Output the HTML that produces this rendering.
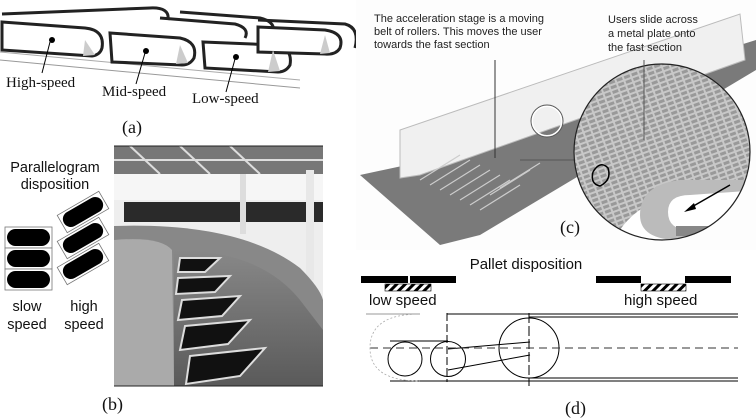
<!DOCTYPE html>
<html><head><meta charset="utf-8"><style>
html,body{margin:0;padding:0;background:#fff;}
svg{display:block;}
.s{font-family:"Liberation Serif",serif;}
.a{font-family:"Liberation Sans","DejaVu Sans",sans-serif;}
</style></head><body>
<svg width="756" height="420" viewBox="0 0 756 420" xmlns="http://www.w3.org/2000/svg">
<defs>
<pattern id="h" width="6" height="6" patternUnits="userSpaceOnUse" patternTransform="rotate(45)">
<rect width="6" height="6" fill="#fff"/><rect width="3" height="6" fill="#000"/></pattern>
<pattern id="grid" width="8" height="5" patternUnits="userSpaceOnUse" patternTransform="rotate(-20)">
<rect width="8" height="5" fill="#c8c8c8"/><rect width="6" height="3" fill="#999"/></pattern>
<linearGradient id="ph" x1="0" y1="0" x2="0" y2="1">
<stop offset="0" stop-color="#888"/><stop offset="1" stop-color="#5a5a5a"/></linearGradient>
<clipPath id="mag"><circle cx="662" cy="152" r="88"/></clipPath>
</defs>

<!-- (a) escalators -->
<g stroke="#222" fill="none">
<path d="M0 60 L300 88" stroke="#999" stroke-width="1"/>
<path d="M0 52 L300 80" stroke="#aaa" stroke-width="1"/>
<path d="M2 14 L150 8 Q170 7 168 20" stroke-width="3"/>
<path d="M180 12 L260 18 Q278 22 272 36" stroke-width="3"/>
<path d="M258 20 L345 24 Q360 28 355 48" stroke-width="3"/>
<path d="M160 18 L235 24 Q250 28 245 38" stroke-width="3"/>
</g>
<g stroke="#222" stroke-width="3">
<path d="M2 22 L85 28 Q105 30 102 48 Q100 55 92 56 L2 50 Z" fill="#fff"/>
<path d="M110 33 L180 38 Q198 42 194 58 Q190 65 182 65 L112 62 Z" fill="#fff"/>
<path d="M203 42 L275 45 Q293 48 290 65 Q286 72 278 72 L205 68 Z" fill="#fff"/>
<path d="M258 27 L325 30 Q345 33 340 48 Q336 55 325 54 L258 52 Z" fill="#fff"/>
</g>
<g fill="#ccc"><path d="M85 40 L95 55 L83 56 Z"/><path d="M180 45 L188 63 L176 64 Z"/><path d="M273 50 L280 71 L268 72 Z"/><path d="M325 35 L330 53 L320 54 Z"/></g>
<g fill="#000"><circle cx="52" cy="40" r="3"/><circle cx="146" cy="51" r="3"/><circle cx="236" cy="57" r="3"/></g>
<g stroke="#000" stroke-width="1"><line x1="50" y1="42" x2="42" y2="73"/><line x1="145" y1="53" x2="136" y2="84"/><line x1="235" y1="59" x2="226" y2="92"/></g>
<g class="s" font-size="15" fill="#111">
<text x="6" y="87">High-speed</text><text x="102" y="96">Mid-speed</text><text x="192" y="103">Low-speed</text>
<text x="122" y="133" font-size="18">(a)</text></g>

<!-- (b) left diagram -->
<g class="a" font-size="14.5" fill="#111" text-anchor="middle">
<text x="55" y="172">Parallelogram</text><text x="55" y="189">disposition</text>
<text x="27" y="311">slow</text><text x="27" y="329">speed</text>
<text x="84" y="311">high</text><text x="84" y="329">speed</text></g>
<g stroke="#777" fill="#fff" stroke-width="0.8">
<rect x="5" y="227" width="47" height="21"/><rect x="5" y="248" width="47" height="21"/><rect x="5" y="269" width="47" height="21"/></g>
<g fill="#000"><rect x="7" y="229" width="43" height="17" rx="8.5"/><rect x="7" y="250" width="43" height="17" rx="8.5"/><rect x="7" y="271" width="43" height="17" rx="8.5"/></g>
<g transform="translate(83,212) rotate(-30)"><rect x="-24" y="-10" width="48" height="20" fill="#fff" stroke="#777" stroke-width="0.8"/><rect x="-22" y="-8" width="44" height="16" rx="8" fill="#000"/></g>
<g transform="translate(83,238) rotate(-30)"><rect x="-24" y="-10" width="48" height="20" fill="#fff" stroke="#777" stroke-width="0.8"/><rect x="-22" y="-8" width="44" height="16" rx="8" fill="#000"/></g>
<g transform="translate(83,264) rotate(-30)"><rect x="-24" y="-10" width="48" height="20" fill="#fff" stroke="#777" stroke-width="0.8"/><rect x="-22" y="-8" width="44" height="16" rx="8" fill="#000"/></g>

<!-- (b) photo -->
<g>
<rect x="114" y="146" width="209" height="240" fill="#eee"/>
<rect x="114" y="146" width="209" height="28" fill="#777"/>
<path d="M114 160 L323 160 M130 146 L160 174 M180 146 L210 174 M230 146 L260 174" stroke="#ddd" stroke-width="2"/>
<rect x="114" y="174" width="209" height="26" fill="#f6f6f6"/>
<rect x="124" y="202" width="199" height="20" fill="#2a2a2a"/>
<rect x="240" y="174" width="6" height="60" fill="#ddd"/><rect x="306" y="170" width="8" height="110" fill="#e8e8e8"/>
<path d="M114 226 Q240 222 300 268 Q320 288 323 300 L323 386 L114 386 Z" fill="#888"/>
<path d="M114 240 Q160 236 172 250 L174 386 L114 386 Z" fill="#aaa"/>
<path d="M174 250 Q260 250 300 300 L323 330 L323 386 L174 386 Z" fill="url(#ph)"/>
<g fill="#111" stroke="#ddd" stroke-width="2">
<path d="M180 258 L220 258 L205 272 L178 272 Z"/>
<path d="M178 278 L230 276 L215 292 L176 294 Z"/>
<path d="M182 300 L240 296 L222 316 L178 320 Z"/>
<path d="M185 326 L250 320 L228 344 L180 350 Z"/>
<path d="M190 356 L265 348 L240 376 L186 384 Z"/>
</g>
<line x1="114" y1="146" x2="323" y2="146" stroke="#222"/><line x1="114" y1="386" x2="323" y2="386" stroke="#222"/>
</g>
<text class="s" x="102" y="410" font-size="18" fill="#111">(b)</text>

<!-- (c) -->
<rect x="356" y="0" width="400" height="250" fill="#fdfdfd"/>
<path d="M360 175 L430 160 L740 45 L756 40 L756 70 L480 235 L440 245 Z" fill="#7a7a7a"/>
<path d="M400 178 L400 130 L740 14 L745 60 L420 175 Z" fill="#f0f0f0" stroke="#bbb"/>
<g stroke="#ccc" stroke-width="1.2">
<line x1="430" y1="185" x2="470" y2="160"/><line x1="440" y1="190" x2="480" y2="165"/><line x1="450" y1="195" x2="490" y2="170"/>
<line x1="460" y1="200" x2="500" y2="175"/><line x1="470" y1="205" x2="510" y2="180"/><line x1="480" y1="210" x2="520" y2="185"/>
<line x1="420" y1="180" x2="460" y2="155"/><line x1="490" y1="195" x2="530" y2="170"/><line x1="500" y1="188" x2="540" y2="163"/></g>
<circle cx="547" cy="121" r="15" fill="none" stroke="#fff" stroke-width="2"/><circle cx="547" cy="121" r="16" fill="none" stroke="#555" stroke-width="1"/>
<line x1="520" y1="160" x2="580" y2="160" stroke="#555"/>
<g clip-path="url(#mag)">
<rect x="570" y="60" width="190" height="190" fill="#fff"/>
<path d="M570 60 L760 60 L760 180 L690 190 Q640 200 620 230 L570 250 Z" fill="url(#grid)"/>
<path d="M680 180 Q640 185 640 215 Q640 240 680 240 L740 240 L740 230 L690 230 Q668 230 668 212 Q668 195 690 195 L760 190 L760 180 Z" fill="#bbb"/>
<path d="M676 226 L720 226 L720 236 L676 236 Z" fill="#888"/>
</g>
<circle cx="662" cy="152" r="88" fill="none" stroke="#222" stroke-width="1.2"/>
<path d="M593 172 Q600 160 608 168 Q612 180 600 186 Q590 184 593 172" fill="none" stroke="#000" stroke-width="1.5"/>
<line x1="730" y1="185" x2="690" y2="208" stroke="#000" stroke-width="1.5"/>
<path d="M684 212 L694 203 L696 209 Z" fill="#000"/>
<line x1="495" y1="60" x2="495" y2="158" stroke="#333"/><line x1="644" y1="60" x2="644" y2="140" stroke="#555"/>
<g class="a" font-size="11" fill="#222">
<text x="374" y="22">The acceleration stage is a moving</text>
<text x="374" y="35">belt of rollers. This moves the user</text>
<text x="374" y="48">towards the fast section</text>
<text x="608" y="23">Users slide across</text>
<text x="608" y="37">a metal plate onto</text>
<text x="608" y="51">the fast section</text></g>
<text class="s" x="560" y="233" font-size="18" fill="#111">(c)</text>

<!-- (d) -->
<text class="a" x="526" y="269" font-size="15" fill="#111" text-anchor="middle">Pallet disposition</text>
<g fill="#000"><rect x="361" y="276" width="47" height="7"/><rect x="410" y="276" width="46" height="7"/>
<rect x="596" y="276" width="45" height="7"/><rect x="685" y="276" width="46" height="7"/></g>
<rect x="385" y="284" width="46" height="7" fill="url(#h)" stroke="#000" stroke-width="0.6"/>
<rect x="641" y="284" width="45" height="7" fill="url(#h)" stroke="#000" stroke-width="0.6"/>
<g class="a" font-size="15" fill="#111"><text x="369" y="305">low speed</text><text x="624" y="305">high speed</text></g>
<g stroke="#000" fill="none" stroke-width="1">
<line x1="447" y1="314" x2="738" y2="314"/><line x1="529" y1="317" x2="738" y2="317"/>
<line x1="390" y1="381" x2="738" y2="381"/><line x1="529" y1="378" x2="738" y2="378"/>
<line x1="390" y1="341" x2="448" y2="341"/>
<circle cx="405" cy="359" r="17"/><circle cx="448" cy="359" r="17.5"/><circle cx="529" cy="348" r="30"/>
<line x1="448" y1="349" x2="530" y2="342"/><line x1="448" y1="370" x2="530" y2="355"/>
<line x1="447" y1="313" x2="447" y2="382" stroke-dasharray="8,3"/>
<line x1="529" y1="313" x2="529" y2="386" stroke-dasharray="10,3"/>
<line x1="370" y1="348" x2="738" y2="348" stroke-dasharray="8,5" stroke="#333"/>
</g>
<path d="M420 314 Q370 314 370 348 Q370 381 420 381" fill="none" stroke="#aaa" stroke-width="0.8" stroke-dasharray="2,2"/>
<line x1="366" y1="314" x2="420" y2="314" stroke="#999"/>
<text class="s" x="565" y="414" font-size="18" fill="#111">(d)</text>
</svg>
</body></html>
